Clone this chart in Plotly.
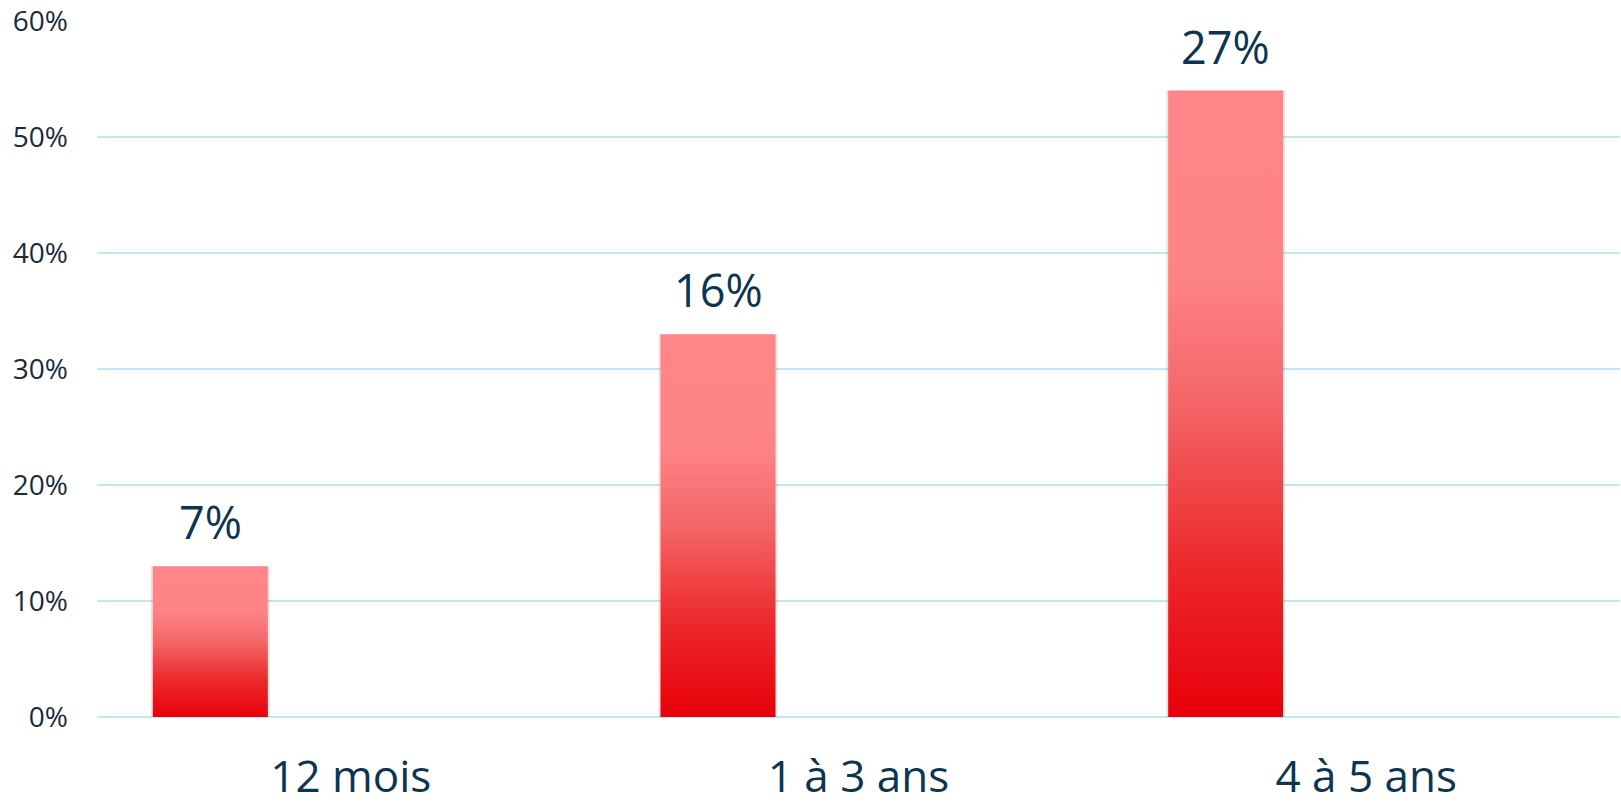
import plotly.graph_objects as go

categories = ["12 mois", "1 à 3 ans", "4 à 5 ans"]
bar_values = [13, 33, 54]          # bar heights (%) as drawn on the axis
label_texts = ["7%", "16%", "27%"]  # data labels shown above the bars
y_ticks = [0, 10, 20, 30, 40, 50, 60]

BAR_OFFSET = -0.39
BAR_WIDTH = 0.2265
TEXT_COLOR = "#0d3550"
TICK_COLOR = "#1a2b38"
GRID_COLOR = "#bfe7f8"

fig = go.Figure()

for i, v in enumerate(bar_values):
    x0 = i + BAR_OFFSET
    x1 = x0 + BAR_WIDTH
    # soft shadow
    fig.add_trace(go.Scatter(
        x=[x0 - 0.004, x1 + 0.004, x1 + 0.004, x0 - 0.004, x0 - 0.004],
        y=[-0.6, -0.6, v, v, -0.6],
        fill="toself", mode="lines", line=dict(width=0),
        fillcolor="rgba(0,0,0,0.10)", hoverinfo="skip", showlegend=False,
    ))
    fig.add_trace(go.Scatter(
        x=[x0, x1, x1, x0, x0],
        y=[0, 0, v, v, 0],
        fill="toself", mode="lines", line=dict(width=0),
        fillgradient=dict(
            type="vertical",
            colorscale=[[0, "#e8000a"], [0.25, "#ec2a2c"], [0.5, "#f46668"],
                        [0.7, "#fe8385"], [1, "#ff8688"]],
        ),
        hoverinfo="skip", showlegend=False,
    ))
    fig.add_annotation(
        x=x0 + BAR_WIDTH / 2, y=v, text=label_texts[i],
        showarrow=False, yanchor="bottom", yshift=12,
        font=dict(family="Open Sans", size=45, color=TEXT_COLOR),
    )

fig.update_layout(
    width=1621, height=805,
    margin=dict(l=97, r=1, t=21, b=88),
    paper_bgcolor="white", plot_bgcolor="white",
    font=dict(family="Open Sans"),
    showlegend=False,
)
fig.update_xaxes(
    range=[-0.5, 2.5], tickvals=list(range(len(categories))), ticktext=categories,
    showgrid=False, zeroline=False, showline=False, ticks="",
    tickfont=dict(family="Open Sans", size=44, color=TEXT_COLOR),
    ticklabelstandoff=30, automargin=False,
)
fig.update_yaxes(
    range=[0, 60], tickvals=y_ticks, ticktext=[f"{t}%" for t in y_ticks],
    showgrid=True, gridcolor=GRID_COLOR, gridwidth=2,
    zeroline=True, zerolinecolor=GRID_COLOR, zerolinewidth=2,
    showline=False, ticks="",
    tickfont=dict(family="Open Sans", size=28, color=TICK_COLOR),
    ticklabelstandoff=28, automargin=False,
)

fig.write_html("out.html")
